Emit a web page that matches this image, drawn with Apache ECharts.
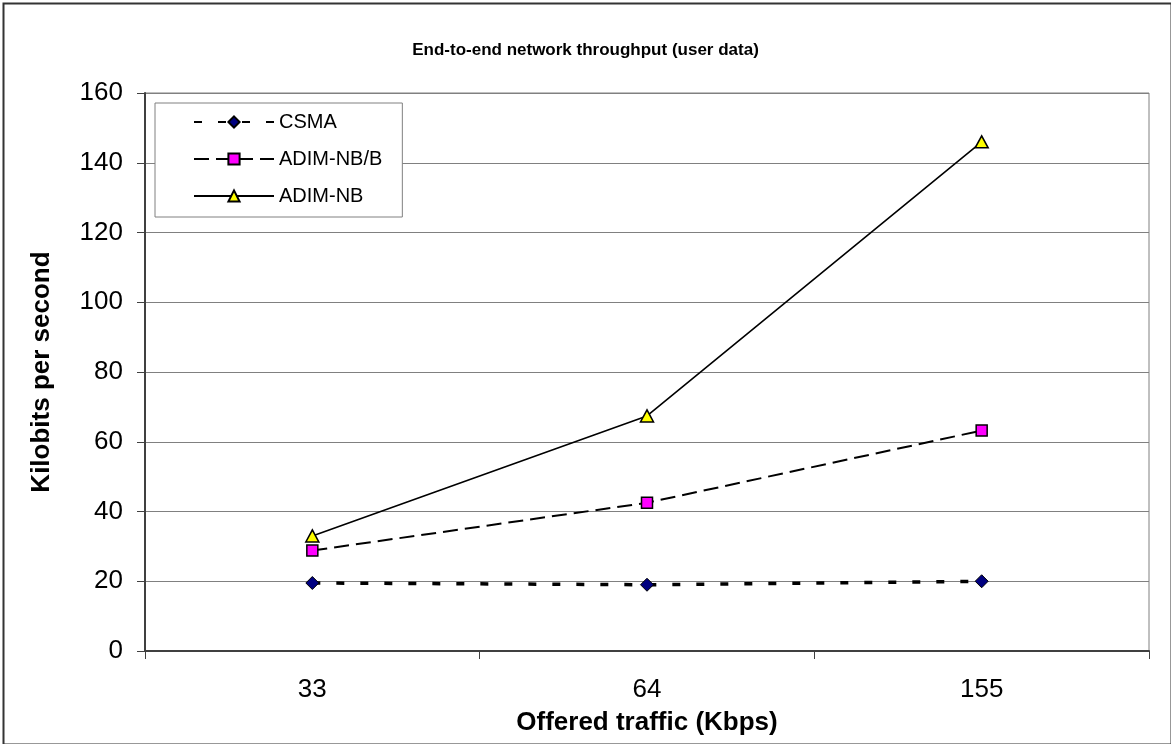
<!DOCTYPE html>
<html>
<head>
<meta charset="utf-8">
<script src="https://cdn.jsdelivr.net/npm/echarts@6/dist/echarts.min.js"></script>
<style>
html,body{margin:0;padding:0;background:#fff;}
#c{width:1171px;height:744px;}
</style>
</head>
<body>
<div id="c"></div>
<script>
const categories = ['33', '64', '155'];
const csma = [19.5, 19, 20];
const adimNBB = [28.8, 42.5, 63.2];
const adimNB = [33, 67.4, 146];
const yTicks = { min: 0, max: 160, interval: 20 };

const chart = echarts.init(document.getElementById('c'), null, { renderer: 'canvas' });
const font = 'Liberation Sans, Arial, sans-serif';
chart.setOption({
  backgroundColor: '#fff',
  animation: false,
  title: {
    text: 'End-to-end network throughput (user data)',
    left: 'center',
    top: 37,
    textStyle: { fontFamily: font, fontSize: 17, fontWeight: 'bold', color: '#000' }
  },
  graphic: [{
    type: 'rect', left: 1, top: 1, silent: true,
    shape: { width: 1168, height: 741 },
    style: { fill: 'none', stroke: '#333', lineWidth: 2 }
  }],
  grid: {
    left: 145, right: 22, top: 93, bottom: 93,
    show: true, borderColor: '#808080', borderWidth: 1, backgroundColor: '#fff'
  },
  legend: {
    orient: 'vertical',
    left: 155, top: 103,
    backgroundColor: '#fff',
    borderColor: '#808080', borderWidth: 1,
    borderRadius: 0,
    padding: [9, 20, 11, 38],
    itemGap: 17,
    itemWidth: 80, itemHeight: 14,
    textStyle: { fontFamily: font, fontSize: 20, color: '#000' },
    data: ['CSMA', 'ADIM-NB/B', 'ADIM-NB']
  },
  xAxis: {
    type: 'category',
    data: categories,
    boundaryGap: true,
    name: 'Offered traffic (Kbps)',
    nameLocation: 'middle',
    nameGap: 59,
    nameTextStyle: { fontFamily: font, fontSize: 26, fontWeight: 'bold', color: '#000' },
    axisLine: { lineStyle: { color: '#404040', width: 2 } },
    axisTick: { show: true, length: 8, inside: false, lineStyle: { color: '#404040', width: 1 } },
    axisLabel: { fontFamily: font, fontSize: 26, color: '#000', margin: 26 },
    splitLine: { show: false }
  },
  yAxis: {
    type: 'value',
    min: yTicks.min, max: yTicks.max, interval: yTicks.interval,
    name: 'Kilobits per second',
    nameLocation: 'middle',
    nameGap: 90,
    nameTextStyle: { fontFamily: font, fontSize: 26, fontWeight: 'bold', color: '#000' },
    axisLine: { show: true, lineStyle: { color: '#404040', width: 2 } },
    axisTick: { show: true, length: 8, inside: false, lineStyle: { color: '#404040', width: 1 } },
    axisLabel: { fontFamily: font, fontSize: 26, color: '#000', margin: 22 },
    splitLine: { show: true, lineStyle: { color: '#808080', width: 1 } }
  },
  series: [
    {
      name: 'CSMA', type: 'line', data: csma,
      symbol: 'diamond', symbolSize: [13, 13],
      itemStyle: { color: '#000080', borderColor: '#000', borderWidth: 1 },
      lineStyle: { color: '#000', width: 3.5, type: [8, 16] }
    },
    {
      name: 'ADIM-NB/B', type: 'line', data: adimNBB,
      symbol: 'rect', symbolSize: 11,
      itemStyle: { color: '#FF00FF', borderColor: '#000', borderWidth: 1.5 },
      lineStyle: { color: '#000', width: 2, type: [15, 7] }
    },
    {
      name: 'ADIM-NB', type: 'line', data: adimNB,
      symbol: 'triangle', symbolSize: [13, 12],
      itemStyle: { color: '#FFFF00', borderColor: '#000', borderWidth: 1.5 },
      lineStyle: { color: '#000', width: 1.6, type: 'solid' }
    }
  ]
});
</script>
</body>
</html>
